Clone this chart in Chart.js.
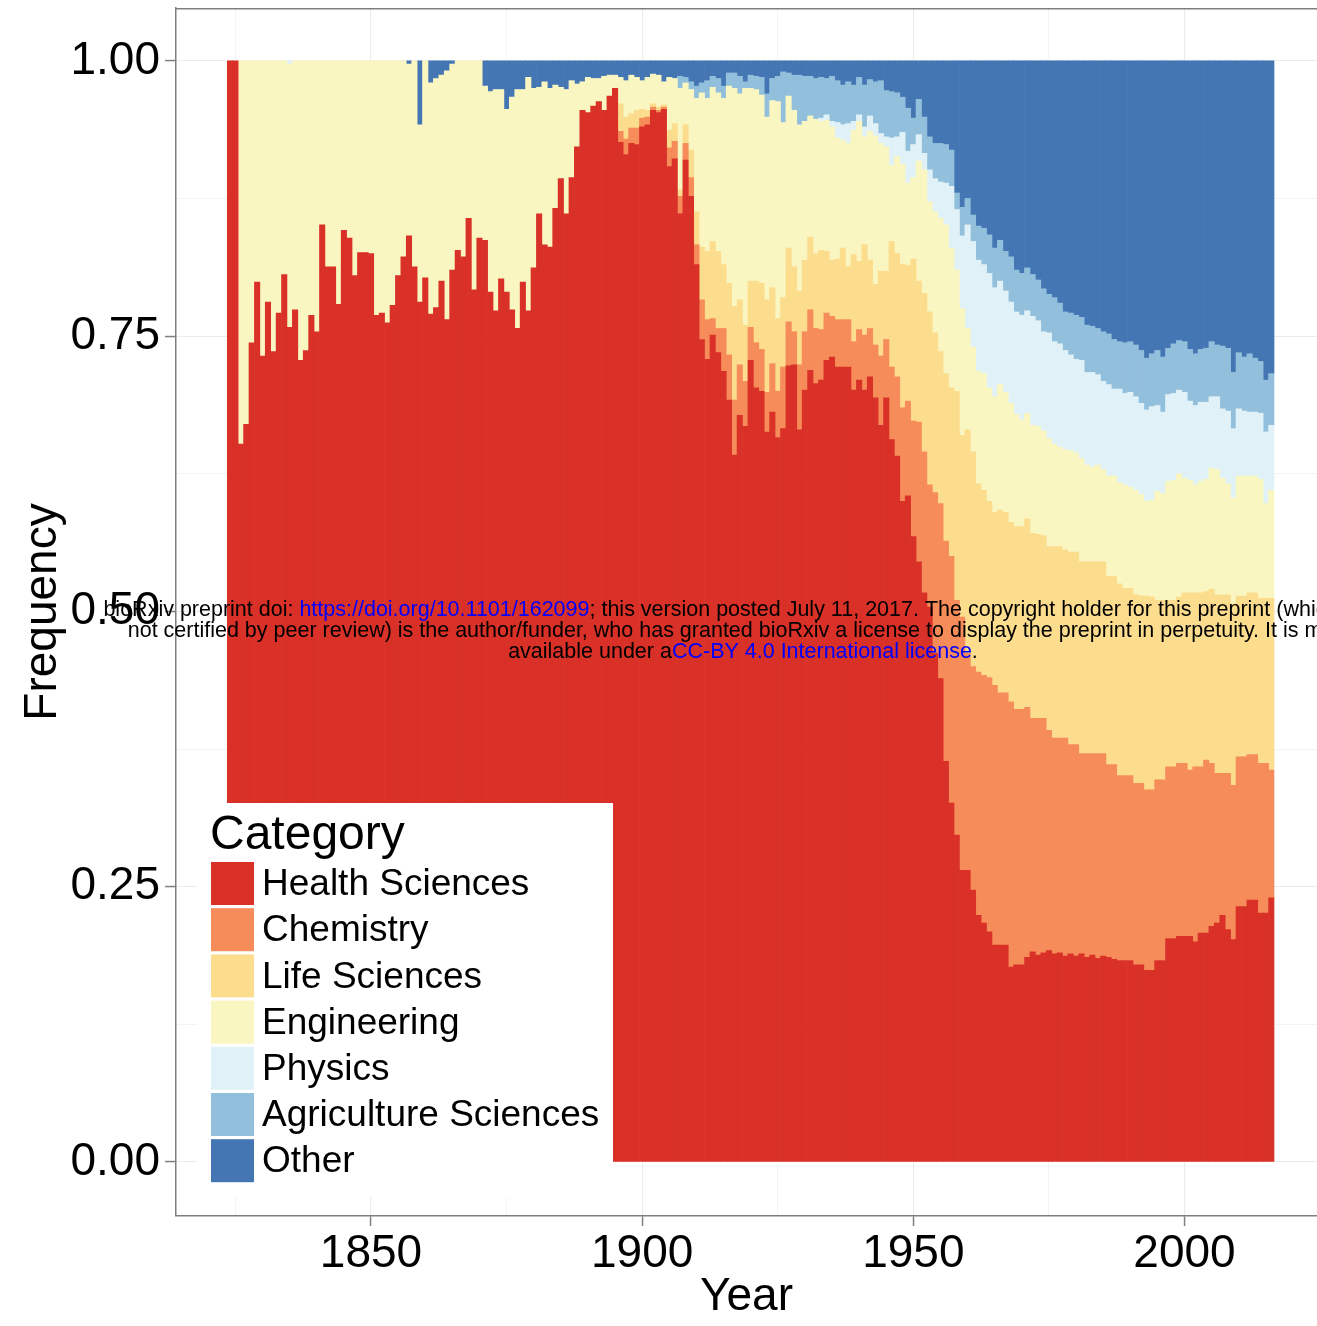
<!DOCTYPE html>
<html>
<head>
<meta charset="utf-8">
<title>Share of categories per year</title>
<script src="https://cdn.jsdelivr.net/npm/chart.js@4.4.1/dist/chart.umd.min.js"></script>
<style>
  html, body { margin: 0; padding: 0; background: #fff; overflow: hidden; }
  #wrap { position: relative; width: 1317px; height: 1326px; }
</style>
</head>
<body>
<div id="wrap"><canvas id="shareChart" width="1317" height="1326"></canvas></div>
<script>
// ---------- data: yearly share (%) of each category ----------
const years = [
  1824, 1825, 1826, 1827, 1828, 1829, 1830, 1831, 1832, 1833,
  1834, 1835, 1836, 1837, 1838, 1839, 1840, 1841, 1842, 1843,
  1844, 1845, 1846, 1847, 1848, 1849, 1850, 1851, 1852, 1853,
  1854, 1855, 1856, 1857, 1858, 1859, 1860, 1861, 1862, 1863,
  1864, 1865, 1866, 1867, 1868, 1869, 1870, 1871, 1872, 1873,
  1874, 1875, 1876, 1877, 1878, 1879, 1880, 1881, 1882, 1883,
  1884, 1885, 1886, 1887, 1888, 1889, 1890, 1891, 1892, 1893,
  1894, 1895, 1896, 1897, 1898, 1899, 1900, 1901, 1902, 1903,
  1904, 1905, 1906, 1907, 1908, 1909, 1910, 1911, 1912, 1913,
  1914, 1915, 1916, 1917, 1918, 1919, 1920, 1921, 1922, 1923,
  1924, 1925, 1926, 1927, 1928, 1929, 1930, 1931, 1932, 1933,
  1934, 1935, 1936, 1937, 1938, 1939, 1940, 1941, 1942, 1943,
  1944, 1945, 1946, 1947, 1948, 1949, 1950, 1951, 1952, 1953,
  1954, 1955, 1956, 1957, 1958, 1959, 1960, 1961, 1962, 1963,
  1964, 1965, 1966, 1967, 1968, 1969, 1970, 1971, 1972, 1973,
  1974, 1975, 1976, 1977, 1978, 1979, 1980, 1981, 1982, 1983,
  1984, 1985, 1986, 1987, 1988, 1989, 1990, 1991, 1992, 1993,
  1994, 1995, 1996, 1997, 1998, 1999, 2000, 2001, 2002, 2003,
  2004, 2005, 2006, 2007, 2008, 2009, 2010, 2011, 2012, 2013,
  2014, 2015, 2016
];

const healthSciences = [
  100, 100, 65.2, 67.0, 74.4, 79.9, 73.2, 78.1, 73.6, 77.1,
  80.6, 75.8, 77.4, 72.8, 73.7, 76.9, 75.4, 85.1, 81.3, 81.3,
  77.9, 84.6, 83.9, 80.5, 82.6, 82.6, 82.5, 76.9, 77.1, 76.2,
  77.8, 80.5, 82.2, 84.1, 81.3, 78.1, 80.3, 77.0, 77.6, 80.0,
  76.5, 81.0, 82.8, 82.2, 85.7, 79.2, 83.9, 83.7, 79.0, 77.3,
  80.2, 79.0, 77.4, 75.7, 79.9, 77.3, 81.2, 86.1, 83.3, 83.1,
  86.6, 89.3, 86.1, 89.4, 92.2, 95.5, 95.3, 95.9, 96.3, 95.5,
  96.8, 97.5, 92.6, 91.5, 92.5, 92.4, 94.0, 94.2, 95.5, 95.3,
  95.6, 90.4, 91.1, 86.1, 91.0, 87.7, 81.5, 74.7, 72.9, 75.1,
  73.5, 71.8, 69.2, 64.2, 67.8, 66.8, 72.8, 70.3, 70.0, 66.3,
  68.1, 65.8, 66.6, 72.3, 72.4, 66.5, 70.1, 71.9, 70.7, 71.0,
  72.8, 73.1, 72.2, 72.2, 72.2, 70.1, 71.0, 70.1, 71.3, 69.4,
  66.9, 69.4, 65.6, 64.1, 60.0, 60.5, 56.8, 54.5, 51.7, 50.4,
  46.2, 43.9, 36.4, 32.6, 29.7, 26.5, 26.5, 24.7, 22.4, 21.7,
  20.9, 19.7, 19.7, 19.7, 17.7, 17.9, 17.9, 18.6, 19.1, 18.8,
  19.0, 19.2, 18.9, 19.0, 18.7, 18.9, 18.7, 18.9, 18.6, 18.8,
  18.5, 18.7, 18.6, 18.4, 18.3, 18.3, 18.3, 17.9, 17.9, 17.4,
  17.4, 18.3, 18.3, 20.3, 20.3, 20.5, 20.5, 20.5, 20.0, 20.8,
  20.8, 21.4, 21.7, 22.4, 21.1, 20.2, 23.2, 23.2, 23.8, 23.8,
  22.6, 22.6, 24.0
];

const chemistry = [
  0, 0, 0, 0, 0, 0, 0, 0, 0, 0,
  0, 0, 0, 0, 0, 0, 0, 0, 0, 0,
  0, 0, 0, 0, 0, 0, 0, 0, 0, 0,
  0, 0, 0, 0, 0, 0, 0, 0, 0, 0,
  0, 0, 0, 0, 0, 0, 0, 0, 0, 0,
  0, 0, 0, 0, 0, 0, 0, 0, 0, 0,
  0, 0, 0, 0, 0, 0, 0, 0, 0, 0,
  0, 0, 1.0, 1.4, 1.4, 1.5, 0.8, 0.7, 0.3, 0.2,
  0.2, 1.7, 1.6, 1.6, 1.5, 1.7, 1.8, 3.6, 3.6, 1.5,
  2.2, 3.9, 4.1, 5.0, 4.6, 4.1, 3.0, 4.1, 3.8, 3.6,
  4.4, 4.2, 5.6, 4.0, 3.0, 5.9, 5.3, 5.5, 5.0, 4.6,
  4.3, 3.7, 4.3, 4.3, 4.3, 4.4, 4.6, 5.0, 4.4, 4.8,
  6.3, 5.3, 6.6, 7.2, 8.5, 8.6, 10.5, 12.7, 12.8, 11.1,
  14.6, 15.9, 20.0, 22.4, 21.3, 23.0, 19.7, 20.3, 22.1, 22.5,
  23.1, 23.6, 22.9, 22.9, 24.1, 23.2, 23.2, 22.7, 21.2, 21.5,
  21.3, 20.0, 19.6, 19.5, 19.8, 19.0, 19.2, 18.2, 18.5, 18.3,
  18.6, 18.4, 17.5, 17.7, 16.8, 16.8, 16.8, 16.5, 16.5, 16.4,
  16.4, 16.4, 16.4, 15.6, 15.6, 15.7, 15.7, 15.1, 15.9, 15.1,
  15.7, 14.8, 13.6, 12.9, 14.2, 14.0, 13.6, 13.6, 13.2, 13.2,
  13.6, 13.6, 11.6
];

const lifeSciences = [
  0, 0, 0, 0, 0, 0, 0, 0, 0, 0,
  0, 0, 0, 0, 0, 0, 0, 0, 0, 0,
  0, 0, 0, 0, 0, 0, 0, 0, 0, 0,
  0, 0, 0, 0, 0, 0, 0, 0, 0, 0,
  0, 0, 0, 0, 0, 0, 0, 0, 0, 0,
  0, 0, 0, 0, 0, 0, 0, 0, 0, 0,
  0, 0, 0, 0, 0, 0, 0, 0, 0, 0,
  0, 0, 2.5, 2.0, 1.3, 1.6, 0.8, 0.6, 0.3, 0.3,
  0.2, 1.6, 1.6, 0.6, 1.7, 2.5, 3.0, 4.8, 6.2, 7.0,
  7.0, 5.8, 6.5, 8.5, 5.9, 5.1, 4.2, 5.6, 6.0, 8.4,
  6.9, 6.6, 6.3, 6.7, 5.9, 6.7, 6.5, 6.6, 6.8, 7.2,
  5.6, 5.1, 5.5, 6.5, 4.8, 7.9, 6.2, 8.2, 6.2, 5.5,
  7.7, 6.2, 11.4, 11.2, 13.0, 12.3, 14.7, 12.8, 14.4, 15.7,
  14.5, 13.8, 15.2, 15.3, 19.0, 16.5, 20.3, 19.5, 17.1, 16.8,
  16.0, 15.7, 16.6, 16.4, 16.3, 16.6, 16.6, 17.1, 16.8, 16.7,
  16.6, 16.7, 17.4, 17.4, 17.1, 17.5, 17.5, 17.4, 17.4, 17.4,
  17.4, 17.4, 17.1, 17.1, 17.4, 17.0, 17.0, 17.1, 17.0, 17.6,
  17.5, 16.3, 16.3, 15.1, 15.1, 15.1, 15.5, 16.1, 15.8, 15.8,
  15.3, 15.8, 16.2, 16.2, 16.2, 16.5, 14.6, 14.6, 14.7, 14.7,
  15.0, 15.0, 15.6
];

const engineering = [
  0, 0, 34.8, 33.0, 25.6, 20.1, 26.8, 21.9, 26.4, 22.9,
  19.4, 23.9, 22.6, 27.2, 26.3, 23.1, 24.6, 14.9, 18.7, 18.7,
  22.1, 15.4, 16.1, 19.5, 17.4, 17.4, 17.5, 23.1, 22.9, 23.8,
  22.2, 19.5, 17.8, 15.6, 18.7, 16.1, 19.7, 21.0, 20.8, 18.7,
  22.6, 18.7, 17.2, 17.8, 14.3, 20.8, 16.1, 14.0, 18.2, 20.1,
  17.2, 16.6, 19.3, 21.7, 17.5, 21.2, 16.3, 11.5, 14.8, 14.4,
  11.2, 8.3, 11.3, 8.8, 5.7, 2.6, 3.2, 2.5, 2.1, 3.1,
  1.9, 1.2, 2.4, 3.3, 3.5, 3.0, 2.6, 3.0, 2.7, 2.9,
  2.1, 4.8, 4.1, 9.2, 3.8, 5.5, 10.3, 14.0, 13.9, 14.0,
  14.4, 15.1, 17.9, 19.8, 18.7, 21.5, 17.5, 17.4, 17.1, 16.6,
  17.0, 19.7, 15.9, 13.8, 14.2, 15.1, 12.6, 11.0, 12.2, 11.7,
  11.9, 12.1, 11.0, 9.8, 11.2, 11.3, 12.7, 9.8, 11.7, 13.5,
  11.6, 11.3, 6.9, 8.8, 9.1, 7.5, 7.4, 10.9, 11.2, 10.0,
  11.0, 12.1, 13.5, 12.7, 11.0, 11.5, 9.2, 9.5, 10.2, 10.6,
  10.3, 10.5, 11.4, 10.9, 10.8, 10.2, 9.7, 9.6, 9.8, 9.8,
  9.5, 9.8, 9.3, 9.0, 9.1, 9.2, 9.0, 9.4, 8.8, 8.6,
  8.8, 8.4, 9.1, 9.1, 9.2, 9.4, 9.2, 9.5, 9.2, 8.6,
  8.8, 9.9, 9.7, 10.8, 10.9, 11.2, 10.4, 10.2, 9.8, 10.1,
  10.2, 11.0, 11.4, 10.6, 10.1, 9.6, 10.9, 10.9, 10.6, 10.6,
  10.8, 8.6, 9.8
];

const physics = [
  0, 0, 0, 0, 0, 0, 0, 0, 0, 0,
  0, 0.3, 0, 0, 0, 0, 0, 0, 0, 0,
  0, 0, 0, 0, 0, 0, 0, 0, 0, 0,
  0, 0, 0, 0, 0, 0, 0, 0, 0, 0,
  0, 0, 0, 0, 0, 0, 0, 0, 0, 0,
  0, 0, 0, 0, 0, 0, 0, 0, 0, 0,
  0, 0, 0, 0, 0, 0, 0, 0, 0, 0,
  0, 0, 0, 0, 0, 0, 0, 0, 0, 0,
  0, 0, 0, 0, 0, 0, 0, 0, 0, 0,
  0, 0, 0, 0, 0, 0, 0, 0, 0, 0,
  0, 0, 0, 0, 0, 0, 0, 0, 0, 0.3,
  0.5, 0.5, 1.4, 1.4, 1.8, 0.8, 0.6, 0.9, 1.4, 1.1,
  0.9, 0.9, 2.5, 1.8, 2.9, 2.9, 3.0, 2.4, 1.5, 2.9,
  3.0, 3.3, 3.8, 5.6, 5.5, 6.6, 9.4, 9.6, 10.1, 9.9,
  10.4, 9.9, 9.4, 9.2, 9.2, 9.3, 9.5, 9.3, 9.9, 9.6,
  9.0, 9.6, 9.3, 9.4, 9.0, 8.7, 8.5, 8.9, 8.4, 8.6,
  8.2, 8.0, 8.3, 7.9, 8.5, 8.3, 8.6, 8.5, 8.3, 8.3,
  8.5, 7.8, 7.4, 7.9, 7.9, 7.6, 7.8, 7.2, 7.2, 7.2,
  7.0, 6.5, 6.6, 6.3, 6.6, 6.3, 6.1, 5.9, 5.8, 5.8,
  6.0, 6.5, 5.9
];

const agricultureSciences = [
  0, 0, 0, 0, 0, 0, 0, 0, 0, 0,
  0, 0, 0, 0, 0, 0, 0, 0, 0, 0,
  0, 0, 0, 0, 0, 0, 0, 0, 0, 0,
  0, 0, 0, 0, 0, 0, 0, 0, 0, 0,
  0, 0, 0, 0, 0, 0, 0, 0, 0, 0,
  0, 0, 0, 0, 0, 0, 0, 0, 0, 0,
  0, 0, 0, 0, 0, 0, 0, 0, 0, 0,
  0, 0, 0, 0, 0, 0, 0, 0, 0, 0,
  0, 0, 0, 1.1, 0.5, 0.7, 1.1, 0.9, 1.6, 1.0,
  1.3, 1.1, 1.2, 1.4, 1.6, 0.6, 1.2, 1.2, 1.6, 2.1,
  2.0, 2.3, 4.6, 2.1, 3.2, 4.5, 4.1, 3.6, 3.7, 3.7,
  3.3, 4.1, 3.8, 3.6, 3.8, 3.3, 3.4, 3.8, 3.3, 3.8,
  4.8, 4.2, 4.2, 4.0, 3.2, 3.9, 2.4, 3.2, 3.3, 3.0,
  3.2, 3.5, 3.5, 3.3, 1.5, 2.6, 2.4, 2.4, 3.1, 3.3,
  3.5, 3.6, 3.7, 3.6, 4.1, 3.8, 3.8, 3.9, 3.8, 3.7,
  3.9, 3.5, 4.0, 3.7, 3.5, 3.8, 4.0, 3.9, 4.3, 4.2,
  4.2, 4.5, 4.6, 4.5, 4.3, 4.6, 4.6, 4.7, 4.8, 4.7,
  4.8, 5.0, 5.0, 4.2, 4.5, 4.5, 4.6, 4.7, 4.7, 4.8,
  4.9, 5.0, 4.7, 5.7, 5.7, 5.1, 5.1, 4.9, 5.3, 4.9,
  4.7, 4.7, 4.7
];

const other = [
  0, 0, 0, 0, 0, 0, 0, 0, 0, 0,
  0, 0, 0, 0, 0, 0, 0, 0, 0, 0,
  0, 0, 0, 0, 0, 0, 0, 0, 0, 0,
  0, 0, 0, 0.3, 0, 5.8, 0, 2.0, 1.6, 1.3,
  0.9, 0.3, 0, 0, 0, 0, 0, 2.3, 2.8, 2.6,
  2.6, 4.4, 3.3, 2.6, 2.6, 1.5, 2.5, 2.4, 1.9, 2.5,
  2.2, 2.4, 2.6, 1.8, 2.1, 1.9, 1.5, 1.6, 1.6, 1.4,
  1.3, 1.3, 1.5, 1.8, 1.3, 1.5, 1.8, 1.5, 1.2, 1.3,
  1.9, 1.5, 1.6, 1.4, 1.5, 1.9, 2.3, 2.0, 1.8, 1.4,
  1.6, 2.3, 1.1, 1.1, 1.4, 1.9, 1.3, 1.4, 1.5, 3.0,
  1.6, 1.4, 1.0, 1.1, 1.3, 1.3, 1.4, 1.4, 1.6, 1.5,
  1.6, 1.4, 1.8, 2.2, 1.9, 2.2, 1.5, 2.2, 1.7, 1.9,
  1.8, 2.7, 2.8, 2.9, 3.3, 4.3, 5.2, 3.5, 5.1, 6.9,
  7.5, 7.5, 7.6, 8.1, 12.0, 13.3, 12.5, 14.0, 15.0, 15.2,
  15.8, 17.0, 16.3, 17.3, 17.8, 19.0, 19.3, 18.8, 19.4, 19.9,
  20.7, 21.2, 21.5, 22.0, 22.8, 22.9, 23.1, 23.3, 24.0, 24.1,
  24.3, 24.6, 24.8, 25.3, 25.5, 25.6, 25.5, 25.8, 26.3, 27.0,
  26.6, 26.3, 26.9, 26.1, 25.7, 25.4, 25.5, 26.2, 26.6, 26.2,
  26.1, 25.5, 25.8, 25.9, 26.1, 28.3, 26.5, 26.9, 26.6, 27.0,
  27.3, 29.0, 28.4
];

const categoryNames = ['Health Sciences', 'Chemistry', 'Life Sciences', 'Engineering',
                       'Physics', 'Agriculture Sciences', 'Other'];
const categoryColors = ['#D93027', '#F68C59', '#FCDD8E', '#FAF6C1', '#E0F2F8', '#92BFDB', '#4476B4'];
const categorySeries = [healthSciences, chemistry, lifeSciences, engineering,
                        physics, agricultureSciences, other];

// axis ticks (minor ticks only carry a grid line)
const xTickValues = [1825, 1850, 1875, 1900, 1925, 1950, 1975, 2000];
const xTickLabels = ['', '1850', '', '1900', '', '1950', '', '2000'];
const yTickValues = [0, 0.125, 0.25, 0.375, 0.5, 0.625, 0.75, 0.875, 1];
const yTickLabels = ['0.00', '', '0.25', '', '0.50', '', '0.75', '', '1.00'];

// ---------- look ----------
const FONT = '"Liberation Sans", Arial, Helvetica, sans-serif';
const FRAME = '#7f7f7f';
const GRID = '#ebebeb';

Chart.defaults.font.family = FONT;
Chart.defaults.color = '#000';

// position="fill": every year is scaled to its own total
const yearTotals = years.map((_, i) => categorySeries.reduce((s, arr) => s + arr[i], 0));

const datasets = categorySeries.map((arr, k) => ({
  label: categoryNames[k],
  data: years.map((yr, i) => ({ x: yr, y: arr[i] > 0 ? arr[i] / yearTotals[i] : null })),
  backgroundColor: categoryColors[k],
  borderWidth: 0,
  barPercentage: 1,
  categoryPercentage: 1
}));

const isMajorX = v => xTickLabels[xTickValues.indexOf(v)] !== '';
const isMajorY = v => yTickLabels[yTickValues.indexOf(v)] !== '';

// frame top edge, legend box and the preprint notice
const decorations = {
  id: 'decorations',
  afterDraw(chart) {
    const { ctx, chartArea: area } = chart;
    ctx.save();

    ctx.strokeStyle = FRAME;
    ctx.lineWidth = 1.5;
    ctx.beginPath();
    ctx.moveTo(area.left, area.top + 0.75);
    ctx.lineTo(area.right, area.top + 0.75);
    ctx.stroke();

    // legend
    const boxLeft = area.left + 21, boxTop = 803;
    ctx.fillStyle = '#fff';
    ctx.fillRect(boxLeft, boxTop, 416, 394);
    ctx.fillStyle = '#000';
    ctx.font = '48px ' + FONT;
    ctx.textAlign = 'left';
    ctx.textBaseline = 'alphabetic';
    ctx.fillText('Category', boxLeft + 13, 849);
    ctx.font = '37px ' + FONT;
    ctx.textBaseline = 'middle';
    chart.data.datasets.forEach((ds, i) => {
      const top = 862 + i * 46.2;
      ctx.fillStyle = ds.backgroundColor;
      ctx.fillRect(boxLeft + 14, top, 43, 43);
      ctx.fillStyle = '#000';
      ctx.fillText(ds.label, boxLeft + 65, top + 23);
    });

    // preprint notice
    const lines = [
      [['bioRxiv preprint doi: ', '#000'], ['https://doi.org/10.1101/162099', '#0000ff'],
       ['; this version posted July 11, 2017. The copyright holder for this preprint (which was', '#000']],
      [['not certified by peer review) is the author/funder, who has granted bioRxiv a license to display the preprint in perpetuity. It is made', '#000']],
      [['available under a', '#000'], ['CC-BY 4.0 International license', '#0000ff'], ['.', '#000']]
    ];
    ctx.font = '21.5px ' + FONT;
    ctx.textBaseline = 'alphabetic';
    lines.forEach((parts, li) => {
      const width = parts.reduce((w, p) => w + ctx.measureText(p[0]).width, 0);
      let x = 743 - width / 2;
      parts.forEach(([txt, col]) => {
        ctx.fillStyle = col;
        ctx.fillText(txt, x, 616 + li * 21);
        x += ctx.measureText(txt).width;
      });
    });

    ctx.restore();
  }
};

new Chart(document.getElementById('shareChart'), {
  type: 'bar',
  data: { datasets },
  plugins: [decorations],
  options: {
    responsive: false,
    devicePixelRatio: 1,
    animation: false,
    events: [],
    layout: { padding: { top: 8, left: 0, right: 0, bottom: 0 } },
    plugins: { legend: { display: false }, tooltip: { enabled: false } },
    scales: {
      x: {
        type: 'linear',
        stacked: true,
        offset: false,
        min: 1814.04,
        max: 2024.43,
        afterBuildTicks: s => { s.ticks = xTickValues.map(v => ({ value: v })); },
        afterFit: s => { s.height = 110; s.paddingLeft = 0; s.paddingRight = 0; },
        ticks: {
          autoSkip: false, maxRotation: 0, padding: 1,
          font: { size: 46 },
          callback: v => xTickLabels[xTickValues.indexOf(v)]
        },
        grid: {
          offset: false,
          color: GRID,
          lineWidth: c => (c.tick && isMajorX(c.tick.value)) ? 1.1 : 0.55,
          tickColor: c => (c.tick && isMajorX(c.tick.value)) ? FRAME : 'rgba(0,0,0,0)',
          tickWidth: 1.5,
          tickLength: 10
        },
        border: { display: true, color: FRAME, width: 1.5 },
        title: { display: true, text: 'Year', font: { size: 46 }, padding: { top: 0, bottom: 1 } }
      },
      y: {
        stacked: true,
        min: -0.049,
        max: 1.048,
        afterBuildTicks: s => { s.ticks = yTickValues.map(v => ({ value: v })); },
        afterFit: s => { s.width = 176; s.paddingTop = 0; s.paddingBottom = 0; },
        ticks: {
          padding: 5,
          font: { size: 46 },
          callback: v => yTickLabels[yTickValues.indexOf(v)]
        },
        grid: {
          color: GRID,
          lineWidth: c => (c.tick && isMajorY(c.tick.value)) ? 1.1 : 0.55,
          tickColor: c => (c.tick && isMajorY(c.tick.value)) ? FRAME : 'rgba(0,0,0,0)',
          tickWidth: 1.5,
          tickLength: 11
        },
        border: { display: true, color: FRAME, width: 1.5 },
        title: { display: true, text: 'Frequency', font: { size: 46 }, padding: { top: 16, bottom: 0 } }
      }
    }
  }
});
</script>
</body>
</html>
